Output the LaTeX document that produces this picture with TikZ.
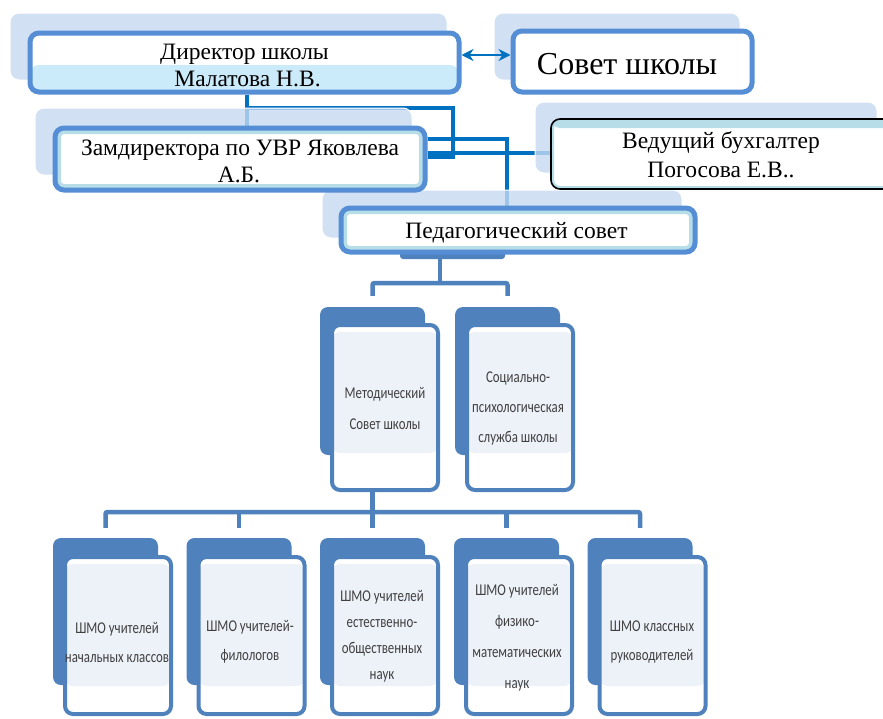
\documentclass[tikz,border=0pt]{standalone}
\usepackage{fontspec}
\setmainfont{Liberation Serif}
\newfontfamily\calib[FakeStretch=0.78]{Carlito}
\usetikzlibrary{arrows.meta,calc}
\definecolor{bordblue}{HTML}{558ED5}
\definecolor{connblue}{HTML}{0070C0}
\definecolor{shadowc}{HTML}{C6D9F1}
\definecolor{bandc}{HTML}{CCEBFA}
\definecolor{tealc}{HTML}{B7DEE8}
\definecolor{smartblue}{HTML}{4F81BD}
\definecolor{panelc}{HTML}{EDF1F8}
\tikzset{
  shadowbox/.style={fill=shadowc, fill opacity=0.8, draw=white, line width=1pt, rounded corners=9pt},
  topbox/.style={draw=bordblue, line width=5pt, rounded corners=9pt, fill=white, inner sep=0pt},
  tealring/.style={path picture={\draw[tealc, line width=#1, rounded corners=9pt]
      (path picture bounding box.south west) rectangle (path picture bounding box.north east);}},
  dirband/.style={path picture={\fill[bandc] (path picture bounding box.south west)
      rectangle ([yshift=27pt]path picture bounding box.south east);}},
  vedbox/.style={draw=black, line width=1.6pt, rounded corners=9pt, fill=white, inner sep=0pt,
      path picture={\fill[tealc] (path picture bounding box.north west) rectangle ([yshift=-9pt]path picture bounding box.north east);
        \draw[tealc, line width=6pt] (path picture bounding box.south west) rectangle (path picture bounding box.north east);}},
  toptext/.style={anchor=base, inner sep=0pt, font=\fontsize{23.5}{27}\selectfont},
  conn/.style={draw=connblue, line width=4.5pt},
  dblarrow/.style={draw=connblue, line width=2.8pt, {Stealth[length=12pt,width=12pt]}-{Stealth[length=12pt,width=12pt]}},
  backbox/.style={fill=smartblue, rounded corners=8pt, inner sep=0pt, minimum width=105pt},
  frontbox/.style={draw=smartblue, line width=4pt, fill=white, rounded corners=8pt, inner sep=0pt, minimum width=106pt,
      path picture={\fill[panelc] ([yshift=-7pt]path picture bounding box.north west)
        rectangle ([yshift=#1]path picture bounding box.south east);}},
  lconn/.style={draw=smartblue, line width=4.5pt},
  ltext/.style={align=center, inner sep=0pt, text=black!75, font=\calib\fontsize{16.5}{27}\selectfont},
}
\begin{document}
\begin{tikzpicture}[x=1pt,y=-1pt]
\useasboundingbox (0,0) rectangle (883,718);
\fill[white] (0,0) rectangle (883,718);

% helper coordinates for connector routes
\coordinate (cx) at (247,0);
\coordinate (j1) at (453,108);
\coordinate (j2) at (453,157);
\coordinate (j3) at (507,139);
\coordinate (j4) at (0,153);
\coordinate (ay) at (0,55);

% box shapes (drawn first so the connectors can refer to them)
\path (244.5,62.5) node[topbox, minimum width=429pt, minimum height=59pt, draw=none, fill=none] (dir) {};
\path (632.5,61.5) node[topbox, minimum width=239pt, minimum height=61pt, draw=none, fill=none] (sov) {};
\path (240,159) node[topbox, minimum width=370pt, minimum height=62pt, draw=none, fill=none] (zam) {};
\path (723,154) node[topbox, line width=1.6pt, minimum width=344pt, minimum height=70pt, draw=none, fill=none] (ved) {};
\path (518,230) node[topbox, minimum width=354pt, minimum height=44pt, draw=none, fill=none] (ped) {};

% top connectors
\draw[conn] (dir.south -| cx) -- (zam.north -| cx);
\draw[conn] (dir.south -| cx) |- (j1) -- (j2) -- (zam.east |- j2);
\draw[conn] (zam.east |- j3) -| (ped.north -| j3);
\draw[conn] (zam.east |- j4) -- (ved.west |- j4);

% soft shadows behind the top boxes
\draw[shadowbox] (10,13) rectangle (447,80);
\draw[shadowbox] (494,13) rectangle (740,80);
\draw[shadowbox] (35,108) rectangle (412,175);
\draw[shadowbox] (535,102) rectangle (877,173);
\draw[shadowbox] (322,190) rectangle (682,238);

% hidden box edge under the pedagogical council
\node[fill=smartblue, minimum width=105pt, minimum height=14pt, rounded corners=3pt, inner sep=0pt] (pedbar) at (452.5,252) {};

% top boxes
\node[topbox, dirband, minimum width=429pt, minimum height=59pt] (dirv) at (dir) {};
\node[topbox, minimum width=239pt, minimum height=61pt] (sovv) at (sov) {};
\node[topbox, tealring=12pt, minimum width=370pt, minimum height=62pt] (zamv) at (zam) {};
\node[vedbox, minimum width=344pt, minimum height=70pt] (vedv) at (ved) {};
\node[topbox, tealring=12pt, minimum width=354pt, minimum height=44pt] (pedv) at (ped) {};

\draw[dblarrow] (dir.east |- ay) -- (sov.west |- ay);

% top texts
\node[toptext] (t1) at (244.5,59) {Директор школы};
\node[toptext] (t2) at (247.5,86) {Малатова Н.В.};
\node[toptext] (t3) at (240,155) {Замдиректора по УВР Яковлева};
\node[toptext] (t4) at (239,182) {А.Б.};
\node[toptext, font=\fontsize{32}{36}\selectfont] (t5) at (627,74) {Совет школы};
\node[toptext] (t6) at (721,148) {Ведущий бухгалтер};
\node[toptext] (t7) at (721,177) {Погосова Е.В..};
\node[toptext] (t8) at (516.5,238) {Педагогический совет};

% middle level
\node[backbox, minimum height=148pt] (metb) at (372.5,381) {};
\node[backbox, minimum height=148pt] (socb) at (507.5,381) {};
\node[frontbox=37pt, minimum height=165pt] (metf) at (385,407.5) {};
\node[frontbox=37pt, minimum height=165pt] (socf) at (520,407.5) {};
\node[ltext, font=\calib\fontsize{16.5}{31}\selectfont] (mt) at (385,408) {Методический\\Совет школы};
\node[ltext, font=\calib\fontsize{16.5}{30}\selectfont] (st) at (518,408) {Социально-\\психологическая\\служба школы};

\coordinate (h) at (440,283);
\draw[lconn] (pedbar.south -| h) -- (h);
\draw[lconn, rounded corners=2pt] ([yshift=11pt]metb.north) |- (h) -| ([yshift=11pt]socb.north);

% bottom level
\foreach \i/\x in {1/105.5,2/239,3/372.5,4/506.5,5/640}{
  \node[backbox, minimum height=147pt] (b\i b) at (\x,611.5) {};
  \node[frontbox=28pt, minimum height=157pt] (b\i f) at ($(\x,635.5)+(12.5,0)$) {};
}
\coordinate (bus) at (372.5,512);
\draw[lconn] (metb.center |- metf.south) -- (bus);
\draw[lconn, rounded corners=2pt] ([yshift=10pt]b1b.north) |- (bus) -| ([yshift=10pt]b5b.north);
\draw[lconn] (b2b.north |- bus) -- ([yshift=10pt]b2b.north);
\draw[lconn] (b3b.north |- bus) -- ([yshift=10pt]b3b.north);
\draw[lconn] (b4b.north |- bus) -- ([yshift=10pt]b4b.north);

\node[ltext, font=\calib\fontsize{16.5}{29}\selectfont] (l1) at (117,642) {ШМО учителей\\начальных классов};
\node[ltext, font=\calib\fontsize{16.5}{29}\selectfont] (l2) at (250,642) {ШМО учителей-\\филологов};
\node[ltext, font=\calib\fontsize{16.5}{26}\selectfont] (l3) at (382,636) {ШМО учителей\\естественно-\\общественных\\наук};
\node[ltext, font=\calib\fontsize{16.5}{31}\selectfont] (l4) at (517,638) {ШМО учителей\\физико-\\математических\\наук};
\node[ltext, font=\calib\fontsize{16.5}{29}\selectfont] (l5) at (652,642) {ШМО классных\\руководителей};
\end{tikzpicture}
\end{document}
